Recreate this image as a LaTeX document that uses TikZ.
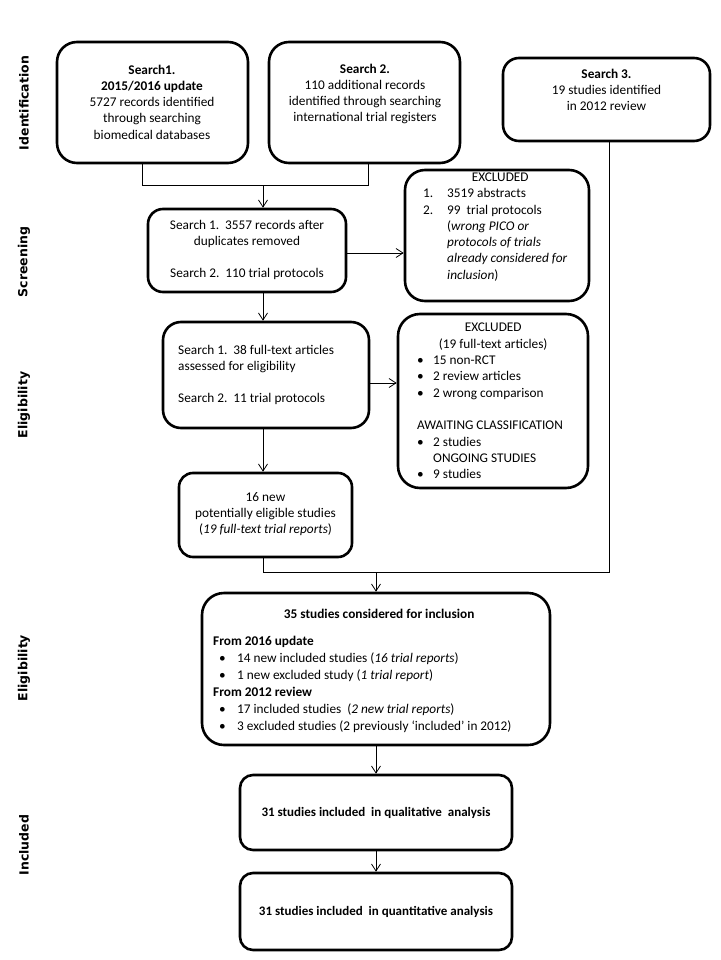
\documentclass[tikz,border=0pt]{standalone}
\usepackage{fontspec}
\setmainfont{Carlito}
\newfontfamily\labfont{DejaVu Sans}
\usetikzlibrary{arrows.meta}
\newcommand\bitem[1]{\makebox[16pt][l]{\textbullet}#1}
\newcommand\bitemw[1]{\hspace*{6pt}\makebox[18pt][l]{\textbullet}#1}
\newcommand\nitem[2]{\makebox[24pt][l]{#1}#2}
\begin{document}
\begin{tikzpicture}[x=1pt,y=-1pt,
  box/.style={draw, line width=2.6pt, rounded corners=#1, inner sep=0pt},
  box/.default=16pt,
  txt/.style={inner sep=0pt, align=center, font=\fontsize{13.3}{16.3}\selectfont},
  ltxt/.style={inner sep=0pt, align=left, font=\fontsize{13.3}{16.3}\selectfont},
  lab/.style={inner sep=0pt, rotate=90, font=\labfont\bfseries\fontsize{12.5}{15}\selectfont},
  conn/.style={line width=0.8pt},
  arr/.style={conn, -{Straight Barb[length=7pt,width=9pt]}}
]
\fill[white] (0,0) rectangle (720,960);
\useasboundingbox (0,0) rectangle (720,960);

% phase labels
\node[lab] (lid) at (24,103) {Identification};
\node[lab] (lsc) at (24,262) {Screening};
\node[lab] (lel1) at (24,405) {Eligibility};
\node[lab] (lel2) at (24,668) {Eligibility};
\node[lab] (lin) at (24,845) {Included};

% boxes
\node[box=20pt, minimum width=191pt, minimum height=121pt] (s1) at (152.5,102.5) {};
\node[box=20pt, minimum width=191pt, minimum height=121pt] (s2) at (364.5,102.5) {};
\node[box=16pt, minimum width=207pt, minimum height=83pt] (s3) at (606.5,99.5) {};
\node[box=15pt, minimum width=198pt, minimum height=83pt] (scr) at (247,250.5) {};
\node[box=20pt, minimum width=184pt, minimum height=131pt] (ex1) at (497,235.5) {};
\node[box=18pt, minimum width=206pt, minimum height=106pt] (el1) at (266,375) {};
\node[box=22pt, minimum width=190pt, minimum height=174pt] (ex2) at (493,401) {};
\node[box=14pt, minimum width=173pt, minimum height=84pt] (pot) at (265.5,515) {};
\node[box=22pt, minimum width=348pt, minimum height=152pt] (big) at (376,669) {};
\node[box=13pt, minimum width=272pt, minimum height=75pt] (qual) at (376,812.5) {};
\node[box=13pt, minimum width=272pt, minimum height=77pt] (quant) at (376,911.5) {};

% texts
\node[txt] (s1t) at (152,102) {\textbf{Search1.}\\\textbf{2015/2016 update}\\5727 records identified\\through searching\\biomedical databases};
\node[txt] (s2t) at (365,94) {\textbf{Search 2.}\\110 additional records\\identified through searching\\international trial registers};
\node[txt] (s3t) at (606.5,90) {\textbf{Search 3.}\\19 studies identified\\in 2012 review};
\node[txt] (scrt) at (247,250) {Search 1.\ \ 3557 records after\\duplicates removed\\\mbox{}\\Search 2.\ \ 110 trial protocols};
\node[ltxt, anchor=west] (ex1t) at (423,227)
  {\makebox[154pt][c]{EXCLUDED}\\
   \nitem{1.}{3519 abstracts}\\
   \nitem{2.}{99\ \ trial protocols}\\
   \hspace*{24pt}(\textit{wrong PICO or}\\
   \hspace*{24pt}\textit{protocols of trials}\\
   \hspace*{24pt}\textit{already considered for}\\
   \hspace*{24pt}\textit{inclusion})};
\node[ltxt, anchor=west] (el1t) at (178,375) {Search 1.\ \ 38 full-text articles\\assessed for eligibility\\\mbox{}\\Search 2.\ \ 11 trial protocols};
\node[ltxt, anchor=west] (ex2t) at (417,401)
  {\makebox[152pt][c]{EXCLUDED}\\
   \makebox[152pt][c]{(19 full-text articles)}\\
   \bitem{15 non-RCT}\\
   \bitem{2 review articles}\\
   \bitem{2 wrong comparison}\\
   \mbox{}\\
   AWAITING CLASSIFICATION\\
   \bitem{2 studies}\\
   \hspace*{16pt}ONGOING STUDIES\\
   \bitem{9 studies}};
\node[txt] (pott) at (265.5,514) {16 new\\potentially eligible studies\\(\textit{19 full-text trial reports})};
\node[inner sep=0pt, align=left, anchor=west, font=\fontsize{13.3}{17}\selectfont] (bigt) at (213,671)
  {\makebox[332pt][c]{\textbf{35 studies considered for inclusion}}\\[10pt]
   \textbf{From 2016 update}\\
   \bitemw{14 new included studies (\textit{16 trial reports})}\\
   \bitemw{1 new excluded study (\textit{1 trial report})}\\
   \textbf{From 2012 review}\\
   \bitemw{17 included studies\ \ (\textit{2 new trial reports})}\\
   \bitemw{3 excluded studies (2 previously ‘included’ in 2012)}};
\node[txt, font=\bfseries\fontsize{13}{16}\selectfont] (qualt) at (376,813) {31 studies included\ \ in qualitative\ \ analysis};
\node[txt, font=\bfseries\fontsize{13}{16}\selectfont] (quantt) at (376,912) {31 studies included\ \ in quantitative analysis};

% connectors
\coordinate (jn) at (263,185);
\coordinate (mg) at (376,572);
\draw[conn] ([xshift=-10.5pt]s1.south) |- (jn);
\draw[conn] ([xshift=3.5pt]s2.south) |- (jn);
\draw[arr] (jn) -- (jn |- scr.north);
\draw[arr] ([yshift=-2.5pt]scr.east) -- ([yshift=-2.5pt]scr.east -| ex1.west);
\draw[arr] (scr.south -| jn) -- (el1.north -| jn);
\draw[arr] ([yshift=-8pt]el1.east) -- ([yshift=-8pt]el1.east -| ex2.west);
\draw[arr] (el1.south -| jn) -- (pot.north -| jn);
\draw[conn] (pot.south -| jn) |- (mg);
\draw[conn] ([xshift=2.5pt]s3.south) |- (mg);
\draw[arr] (mg) -- (big.north);
\draw[arr] (big.south) -- (qual.north);
\draw[arr] (qual.south) -- (quant.north);
\end{tikzpicture}
\end{document}
